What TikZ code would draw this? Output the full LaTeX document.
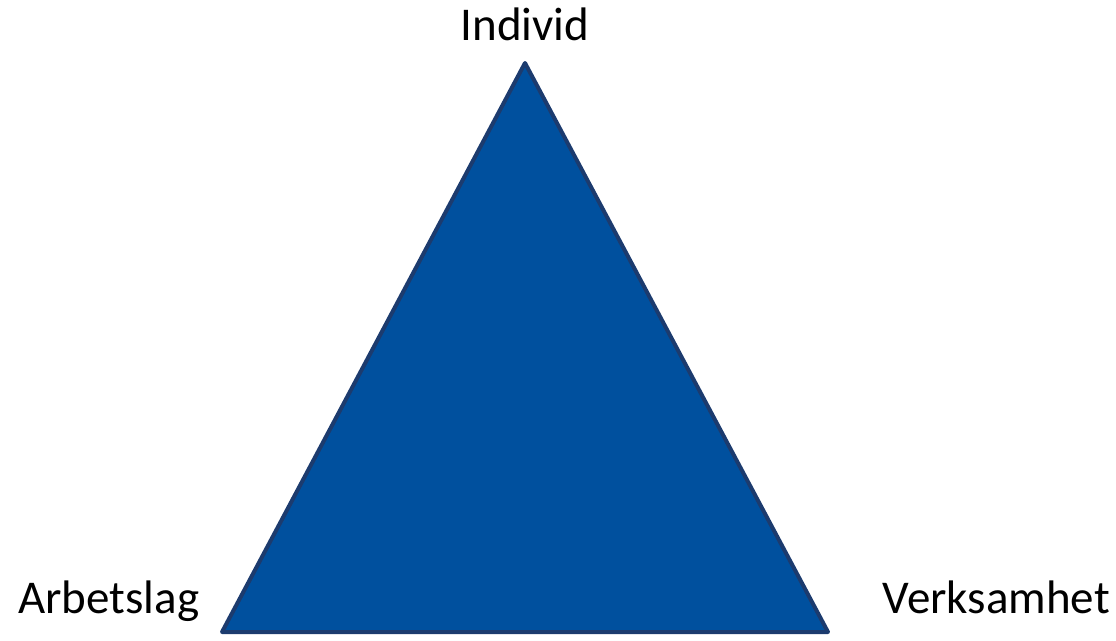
\documentclass[tikz,border=0pt]{standalone}
\usepackage{fontspec}
\setmainfont{Carlito}
\definecolor{trifill}{HTML}{00509E}
\definecolor{triedge}{HTML}{1C3B6E}
\begin{document}
\begin{tikzpicture}[x=1pt,y=-1pt,
  lbl/.style={font=\fontsize{47}{52}\selectfont, inner sep=0pt, anchor=base}]
\useasboundingbox (0,0) rectangle (1116,640);
\coordinate (top) at (525,63);
\coordinate (bl) at (222,632);
\coordinate (br) at (828,632);
\filldraw[fill=trifill, draw=triedge, line width=4pt, line join=round] (top) -- (bl) -- (br) -- cycle;
\node[lbl] (ind) at (525,40) {Individ};
\node[lbl, anchor=base west] (arb) at (18,613) {Arbetslag};
\node[lbl, anchor=base east] (ver) at (1110,613) {Verksamhet};
\end{tikzpicture}
\end{document}
